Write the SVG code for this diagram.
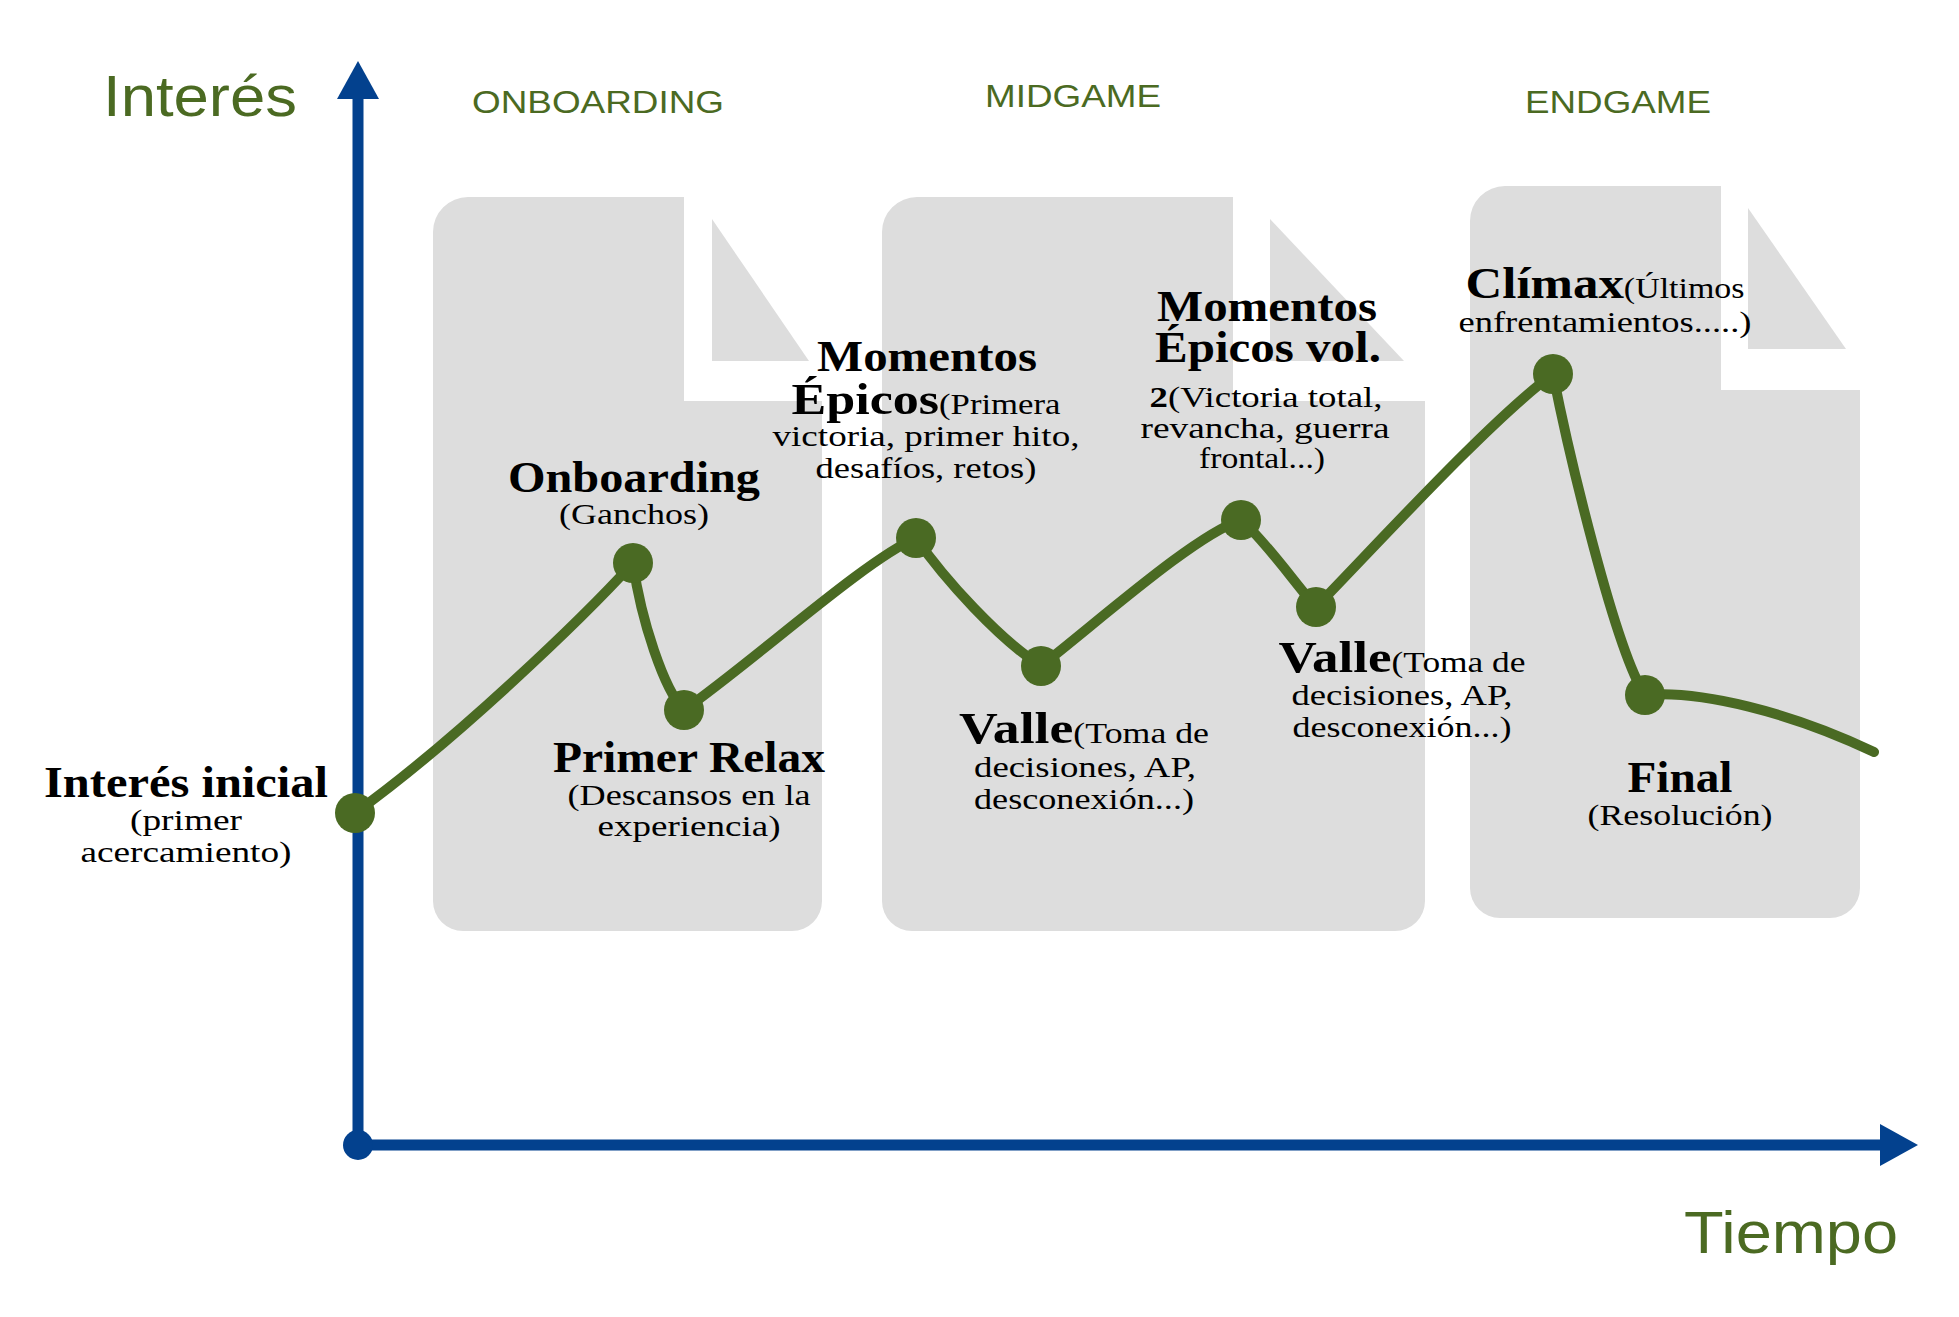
<svg xmlns="http://www.w3.org/2000/svg" width="1959" height="1317" viewBox="0 0 1959 1317">
  <style>
    .doc { fill: #dddddd; }
    .axis { stroke: #03418e; stroke-width: 11; fill: none; }
    .head { font-family: "Liberation Sans Narrow", "Liberation Sans", sans-serif; fill: #4b6a22; }
    .curve { stroke: #4a6a23; stroke-width: 10; fill: none; stroke-linecap: round; stroke-linejoin: round; }
    .dot { fill: #4a6a23; }
    .lbl { font-family: "Liberation Serif", "DejaVu Serif", serif; fill: #000; text-anchor: middle; font-size: 30px; }
    .b { font-weight: bold; font-size: 45px; }
  </style>
  <defs>
    <marker id="arrow" markerUnits="userSpaceOnUse" markerWidth="40" markerHeight="42" refX="2" refY="21" orient="auto">
      <polygon points="0,0 38,21 0,42" fill="#03418e"/>
    </marker>
  </defs>

  <rect width="1959" height="1317" fill="#ffffff"/>

  <!-- phase backgrounds: document-shaped panels with folded corner -->
  <g id="phase-onboarding">
    <path class="doc" d="M433,232 A35,35 0 0 1 468,197 L684,197 L684,401 L822,401 L822,901 A30,30 0 0 1 792,931 L463,931 A30,30 0 0 1 433,901 Z"/>
    <polygon class="doc" points="712,219 712,361 809,361"/>
    <text class="head" x="472" y="113" font-size="32" textLength="252" lengthAdjust="spacingAndGlyphs">ONBOARDING</text>
  </g>
  <g id="phase-midgame">
    <path class="doc" d="M882,232 A35,35 0 0 1 917,197 L1233,197 L1233,401 L1425,401 L1425,901 A30,30 0 0 1 1395,931 L912,931 A30,30 0 0 1 882,901 Z"/>
    <polygon class="doc" points="1270,219 1270,361 1404,361"/>
    <text class="head" x="985" y="107" font-size="32" textLength="176" lengthAdjust="spacingAndGlyphs">MIDGAME</text>
  </g>
  <g id="phase-endgame">
    <path class="doc" d="M1470,221 A35,35 0 0 1 1505,186 L1721,186 L1721,390 L1860,390 L1860,888 A30,30 0 0 1 1830,918 L1500,918 A30,30 0 0 1 1470,888 Z"/>
    <polygon class="doc" points="1748,208 1748,349 1846,349"/>
    <text class="head" x="1525" y="113" font-size="32" textLength="186" lengthAdjust="spacingAndGlyphs">ENDGAME</text>
  </g>

  <!-- axes -->
  <g id="axes">
    <line class="axis" x1="358" y1="1145" x2="358" y2="97" marker-end="url(#arrow)"/>
    <line class="axis" x1="358" y1="1145" x2="1882" y2="1145" marker-end="url(#arrow)"/>
    <circle cx="358" cy="1145" r="15" fill="#03418e"/>
    <text class="head" x="103" y="116" font-size="57" textLength="194" lengthAdjust="spacingAndGlyphs">Interés</text>
    <text class="head" x="1684" y="1253" font-size="60" textLength="214" lengthAdjust="spacingAndGlyphs">Tiempo</text>
  </g>

  <!-- interest curve -->
  <g id="connectors">
    <path class="curve" d="M355,813 C455,741 583,618 633,563 C641,620 664,690 684,710 C755,660 865,560 916,538 C945,580 1000,640 1041,666 C1100,620 1195,535 1241,520 C1265,540 1300,590 1316,607 C1370,552 1490,420 1553,374 C1568,450 1615,650 1645,695 C1700,690 1790,712 1874,752"/>
  </g>

  <g id="interes-inicial">
    <circle class="dot" cx="355" cy="813" r="20"/>
    <text class="lbl b" x="186" y="797" textLength="284" lengthAdjust="spacingAndGlyphs">Interés inicial</text>
    <text class="lbl" x="186" y="830" textLength="112" lengthAdjust="spacingAndGlyphs">(primer</text>
    <text class="lbl" x="186" y="862" textLength="211" lengthAdjust="spacingAndGlyphs">acercamiento)</text>
  </g>
  <g id="onboarding">
    <circle class="dot" cx="633" cy="563" r="20"/>
    <text class="lbl b" x="634" y="492" textLength="252" lengthAdjust="spacingAndGlyphs">Onboarding</text>
    <text class="lbl" x="634" y="524" textLength="150" lengthAdjust="spacingAndGlyphs">(Ganchos)</text>
  </g>
  <g id="primer-relax">
    <circle class="dot" cx="684" cy="710" r="20"/>
    <text class="lbl b" x="689" y="772" textLength="272" lengthAdjust="spacingAndGlyphs">Primer Relax</text>
    <text class="lbl" x="689" y="805" textLength="243" lengthAdjust="spacingAndGlyphs">(Descansos en la</text>
    <text class="lbl" x="689" y="836" textLength="183" lengthAdjust="spacingAndGlyphs">experiencia)</text>
  </g>
  <g id="momentos-epicos">
    <circle class="dot" cx="916" cy="538" r="20"/>
    <text class="lbl b" x="927" y="371" textLength="220" lengthAdjust="spacingAndGlyphs">Momentos</text>
    <text class="lbl" x="926" y="414" textLength="269" lengthAdjust="spacingAndGlyphs"><tspan class="b">Épicos</tspan>(Primera</text>
    <text class="lbl" x="926" y="446" textLength="307" lengthAdjust="spacingAndGlyphs">victoria, primer hito,</text>
    <text class="lbl" x="926" y="478" textLength="221" lengthAdjust="spacingAndGlyphs">desafíos, retos)</text>
  </g>
  <g id="valle-1">
    <circle class="dot" cx="1041" cy="666" r="20"/>
    <text class="lbl" x="1084" y="743" textLength="250" lengthAdjust="spacingAndGlyphs"><tspan class="b">Valle</tspan>(Toma de</text>
    <text class="lbl" x="1085" y="777" textLength="222" lengthAdjust="spacingAndGlyphs">decisiones, AP,</text>
    <text class="lbl" x="1084" y="809" textLength="220" lengthAdjust="spacingAndGlyphs">desconexión...)</text>
  </g>
  <g id="momentos-epicos-2">
    <circle class="dot" cx="1241" cy="520" r="20"/>
    <text class="lbl b" x="1267" y="321" textLength="220" lengthAdjust="spacingAndGlyphs">Momentos</text>
    <text class="lbl b" x="1268" y="362" textLength="226" lengthAdjust="spacingAndGlyphs">Épicos vol.</text>
    <text class="lbl" x="1266" y="407" textLength="233" lengthAdjust="spacingAndGlyphs"><tspan class="b" style="font-size:30px">2</tspan>(Victoria total,</text>
    <text class="lbl" x="1265" y="438" textLength="249" lengthAdjust="spacingAndGlyphs">revancha, guerra</text>
    <text class="lbl" x="1262" y="468" textLength="126" lengthAdjust="spacingAndGlyphs">frontal...)</text>
  </g>
  <g id="valle-2">
    <circle class="dot" cx="1316" cy="607" r="20"/>
    <text class="lbl" x="1402" y="672" textLength="247" lengthAdjust="spacingAndGlyphs"><tspan class="b">Valle</tspan>(Toma de</text>
    <text class="lbl" x="1402" y="705" textLength="221" lengthAdjust="spacingAndGlyphs">decisiones, AP,</text>
    <text class="lbl" x="1402" y="737" textLength="219" lengthAdjust="spacingAndGlyphs">desconexión...)</text>
  </g>
  <g id="climax">
    <circle class="dot" cx="1553" cy="374" r="20"/>
    <text class="lbl" x="1605" y="298" textLength="279" lengthAdjust="spacingAndGlyphs"><tspan class="b">Clímax</tspan>(Últimos</text>
    <text class="lbl" x="1605" y="332" textLength="293" lengthAdjust="spacingAndGlyphs">enfrentamientos.....)</text>
  </g>
  <g id="final">
    <circle class="dot" cx="1645" cy="695" r="20"/>
    <text class="lbl b" x="1680" y="792" textLength="105" lengthAdjust="spacingAndGlyphs">Final</text>
    <text class="lbl" x="1680" y="825" textLength="185" lengthAdjust="spacingAndGlyphs">(Resolución)</text>
  </g>
</svg>
